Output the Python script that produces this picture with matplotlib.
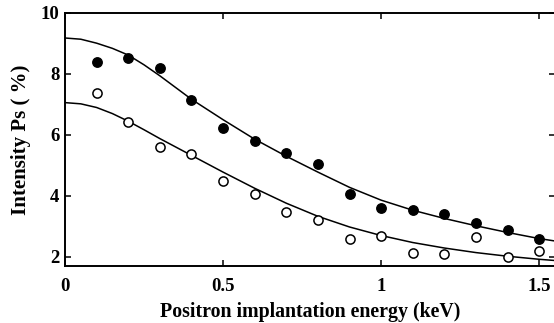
import matplotlib
matplotlib.use("Agg")
import matplotlib.pyplot as plt

# Данi: iнтенсивнiсть Ps (%) вiд енергiї iмплантацiї позитронiв (кеВ)
energy = [0.1, 0.2, 0.3, 0.4, 0.5, 0.6, 0.7, 0.8, 0.9, 1.0, 1.1, 1.2, 1.3, 1.4, 1.5]
filled = [8.39, 8.53, 8.21, 7.14, 6.23, 5.81, 5.40, 5.04, 4.06, 3.60, 3.54, 3.42, 3.10, 2.89, 2.59]
open_pts = [7.37, 6.44, 5.60, 5.38, 4.49, 4.06, 3.47, 3.21, 2.59, 2.70, 2.14, 2.09, 2.65, 1.99, 2.20]

# Апроксимацiйнi кривi, зчитанi з малюнка
fit_energy = [0.0, 0.05, 0.1, 0.15, 0.2, 0.25, 0.3, 0.4, 0.5, 0.6, 0.7, 0.8,
              0.9, 1.0, 1.1, 1.2, 1.3, 1.4, 1.5, 1.55]
fit_filled = [9.18, 9.14, 9.01, 8.84, 8.62, 8.30, 7.94, 7.17, 6.50, 5.86, 5.30, 4.78,
              4.28, 3.86, 3.53, 3.26, 3.02, 2.80, 2.60, 2.52]
fit_open = [7.06, 7.02, 6.90, 6.70, 6.45, 6.17, 5.88, 5.33, 4.78, 4.25, 3.76, 3.33,
            2.98, 2.70, 2.47, 2.29, 2.14, 2.02, 1.92, 1.88]

xticks = [0, 0.5, 1, 1.5]
xtick_labels = ["0", "0.5", "1", "1.5"]
yticks = [2, 4, 6, 8, 10]

plt.rcParams["font.family"] = ["Liberation Serif", "DejaVu Serif"]
plt.rcParams["font.weight"] = "bold"

fig = plt.figure(figsize=(5.54, 3.23), dpi=100)
ax = fig.add_axes([65 / 554, 1 - 266 / 323, 490 / 554, 253 / 323])

ax.plot(fit_energy, fit_filled, color="black", lw=1.1)
ax.plot(fit_energy, fit_open, color="black", lw=1.1)
ax.plot(energy, filled, "o", color="black", ms=6.8, mec="black")
ax.plot(energy, open_pts, "o", mfc="white", mec="black", ms=6.6, mew=1.1)

ax.set_xlim(0, 1.55)
ax.set_ylim(1.7, 10)
ax.set_xticks(xticks)
ax.set_xticklabels(xtick_labels)
ax.set_yticks(yticks)

ax.tick_params(direction="in", top=True, right=True, length=4, width=1.1,
               labelsize=13.5)
ax.tick_params(axis="x", pad=8.5)
ax.tick_params(axis="y", pad=4)
for lbl in ax.get_xticklabels() + ax.get_yticklabels():
    lbl.set_fontweight("bold")
for s in ax.spines.values():
    s.set_linewidth(1.4)

ax.set_xlabel("Positron implantation energy (keV)", fontsize=14.3, fontweight="bold", labelpad=5)
ax.set_ylabel("Intensity Ps ( %)", fontsize=15, fontweight="bold", labelpad=7)

fig.savefig("out.png", dpi=100)
